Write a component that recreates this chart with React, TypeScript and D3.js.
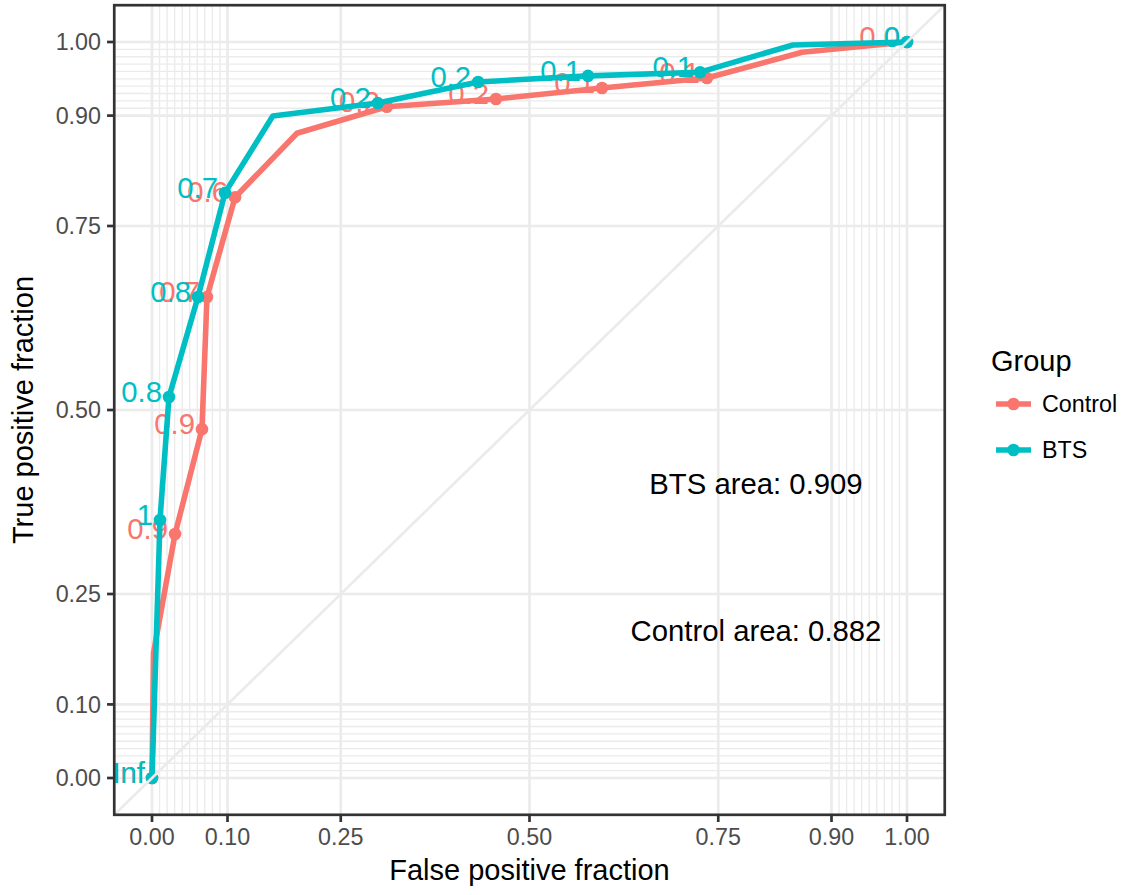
import React from "react";
import * as d3 from "d3";

const majorBreaks = [0, 0.1, 0.25, 0.5, 0.75, 0.9, 1];
const majorLabels = ["0.00", "0.10", "0.25", "0.50", "0.75", "0.90", "1.00"];
const minorBreaks = [
  0, 0.01, 0.02, 0.03, 0.04, 0.05, 0.06, 0.07, 0.08, 0.09, 0.1,
  0.9, 0.91, 0.92, 0.93, 0.94, 0.95, 0.96, 0.97, 0.98, 0.99, 1,
];

const controlFpf = [0, 0.002, 0.0305, 0.0662, 0.0728, 0.11, 0.192, 0.311, 0.4556, 0.596, 0.735, 0.861, 1];
const controlTpf = [0, 0.17, 0.3315, 0.474, 0.6535, 0.789, 0.876, 0.912, 0.9226, 0.9375, 0.951, 0.986, 1];
const controlCut = ["Inf", "", "0.9", "0.9", "0.7", "0.6", "", "0.2", "0.2", "0.1", "0.1", "", "0.0"];

const btsFpf = [0, 0.0106, 0.0225, 0.0609, 0.0967, 0.16, 0.299, 0.432, 0.5775, 0.726, 0.849, 1];
const btsTpf = [0, 0.3505, 0.5177, 0.6535, 0.795, 0.8995, 0.917, 0.9457, 0.954, 0.959, 0.996, 1];
const btsCut = ["Inf", "1", "0.8", "0.8", "0.7", "", "0.2", "0.2", "0.1", "0.1", "", "0"];

const groups = ["Control", "BTS"];
const groupColors = ["#F8766D", "#00BFC4"];
const areaTexts = ["BTS area: 0.909", "Control area: 0.882"];
const areaX = [0.8, 0.8];
const areaY = [0.4, 0.2];

const W = 1126;
const H = 895;
const FONT = "'Liberation Sans', Arial, Helvetica, sans-serif";

export default function App() {
  const x = d3.scaleLinear().domain([0, 1]).range([152, 907]);
  const y = d3.scaleLinear().domain([0, 1]).range([778, 42]);
  const panelL = x(-0.05);
  const panelR = x(1.05);
  const panelT = y(1.05);
  const panelB = y(-0.05);
  const line = d3.line<[number, number]>().x((d) => x(d[0])).y((d) => y(d[1]));

  const series = [
    { fpf: controlFpf, tpf: controlTpf, cut: controlCut, color: groupColors[0] },
    { fpf: btsFpf, tpf: btsTpf, cut: btsCut, color: groupColors[1] },
  ];

  const gridMajorW = 2.7;
  const gridMinorW = 1.35;
  const grey92 = "#EBEBEB";
  const lineW = 5.6;
  const ptR = 6.3;
  const labelSize = 29.3;

  return (
    <svg
      width={W}
      height={H}
      style={{ position: "absolute", left: 0, top: 0, background: "#fff" }}
      fontFamily={FONT}
    >
      <rect x={0} y={0} width={W} height={H} fill="#fff" />
      <defs>
        <clipPath id="panel">
          <rect x={panelL} y={panelT} width={panelR - panelL} height={panelB - panelT} />
        </clipPath>
      </defs>
      <g clipPath="url(#panel)">
        {minorBreaks.map((b, i) => (
          <line key={"mx" + i} x1={x(b)} x2={x(b)} y1={panelT} y2={panelB} stroke={grey92} strokeWidth={gridMinorW} />
        ))}
        {minorBreaks.map((b, i) => (
          <line key={"my" + i} y1={y(b)} y2={y(b)} x1={panelL} x2={panelR} stroke={grey92} strokeWidth={gridMinorW} />
        ))}
        {majorBreaks.map((b, i) => (
          <line key={"Mx" + i} x1={x(b)} x2={x(b)} y1={panelT} y2={panelB} stroke={grey92} strokeWidth={gridMajorW} />
        ))}
        {majorBreaks.map((b, i) => (
          <line key={"My" + i} y1={y(b)} y2={y(b)} x1={panelL} x2={panelR} stroke={grey92} strokeWidth={gridMajorW} />
        ))}
        {series.map((s, gi) => {
          const pts: [number, number][] = s.fpf.map((f, i) => [f, s.tpf[i]]);
          return (
            <g key={"s" + gi}>
              <path d={line(pts) || ""} fill="none" stroke={s.color} strokeWidth={lineW} strokeLinejoin="round" />
              {pts.map((p, i) =>
                s.cut[i] !== "" ? <circle key={"p" + i} cx={x(p[0])} cy={y(p[1])} r={ptR} fill={s.color} /> : null
              )}
              {pts.map((p, i) =>
                s.cut[i] !== "" ? (
                  <text
                    key={"t" + i}
                    x={x(p[0]) - 7}
                    y={y(p[1]) + 5}
                    textAnchor="end"
                    fontSize={labelSize}
                    fill={s.color}
                  >
                    {s.cut[i]}
                  </text>
                ) : null
              )}
            </g>
          );
        })}
        <line x1={x(-0.05)} y1={y(-0.05)} x2={x(1.05)} y2={y(1.05)} stroke={grey92} strokeWidth={gridMajorW} />
      </g>
      {areaTexts.map((t, i) => (
        <text key={"a" + i} x={x(areaX[i])} y={y(areaY[i]) + 10.5} textAnchor="middle" fontSize={labelSize} fill="#000">
          {t}
        </text>
      ))}
      <rect
        x={panelL}
        y={panelT}
        width={panelR - panelL}
        height={panelB - panelT}
        fill="none"
        stroke="#333333"
        strokeWidth={2.7}
      />
      {majorBreaks.map((b, i) => (
        <g key={"xt" + i}>
          <line x1={x(b)} x2={x(b)} y1={panelB} y2={panelB + 7.2} stroke="#333333" strokeWidth={2.7} />
          <text x={x(b)} y={845} textAnchor="middle" fontSize={23.3} fill="#4D4D4D">
            {majorLabels[i]}
          </text>
        </g>
      ))}
      {majorBreaks.map((b, i) => (
        <g key={"yt" + i}>
          <line x1={panelL - 7.2} x2={panelL} y1={y(b)} y2={y(b)} stroke="#333333" strokeWidth={2.7} />
          <text x={101} y={y(b) + 8.3} textAnchor="end" fontSize={23.3} fill="#4D4D4D">
            {majorLabels[i]}
          </text>
        </g>
      ))}
      <text x={(panelL + panelR) / 2} y={880} textAnchor="middle" fontSize={29} fill="#000">
        False positive fraction
      </text>
      <text
        transform={`translate(33, ${(panelT + panelB) / 2}) rotate(-90)`}
        textAnchor="middle"
        fontSize={29}
        fill="#000"
      >
        True positive fraction
      </text>
      <text x={991} y={371} fontSize={29} fill="#000">
        Group
      </text>
      {groups.map((g, i) => {
        const ky = 404 + i * 46;
        return (
          <g key={"lg" + i}>
            <line x1={996} x2={1031} y1={ky} y2={ky} stroke={groupColors[i]} strokeWidth={lineW} />
            <circle cx={1013.5} cy={ky} r={ptR} fill={groupColors[i]} />
            <text x={1042} y={ky + 8.3} fontSize={23.3} fill="#000">
              {g}
            </text>
          </g>
        );
      })}
    </svg>
  );
}
